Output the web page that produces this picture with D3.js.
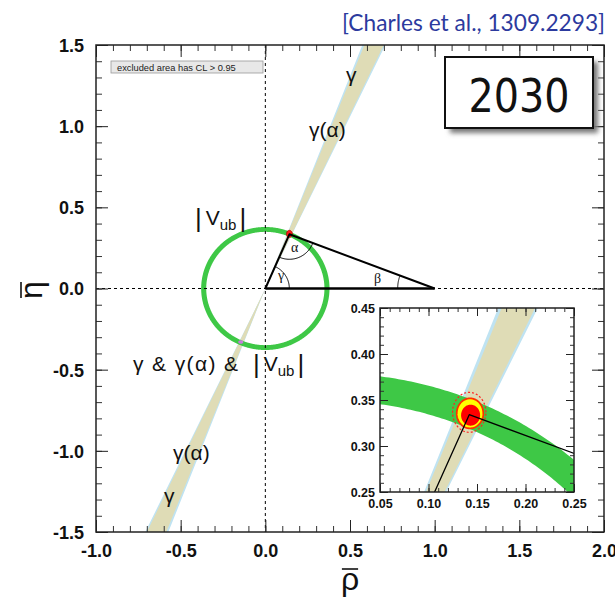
<!DOCTYPE html>
<html>
<head>
<meta charset="utf-8">
<script src="https://cdn.jsdelivr.net/npm/d3@7"></script>
<style>
  body { margin: 0; background: #fff; }
</style>
</head>
<body>
<svg id="chart" width="615" height="600" font-family="'Liberation Sans', Arial, Helvetica, sans-serif"></svg>
<script>
// CKM unitarity triangle in the (rho-bar, eta-bar) plane, 2030 projection

// axis ticks / ranges
const xTicks = [-1.0, -0.5, 0.0, 0.5, 1.0, 1.5, 2.0];
const yTicks = [-1.5, -1.0, -0.5, 0.0, 0.5, 1.0, 1.5];
const insetXTicks = [0.05, 0.10, 0.15, 0.20, 0.25];
const insetYTicks = [0.25, 0.30, 0.35, 0.40, 0.45];

// fit inputs
const apex = [0.142, 0.334];            // best-fit (rho, eta)
const mirrorSolution = [-0.145, -0.330];
const gammaCore = [65.0, 68.7];         // gamma band, degrees
const gammaEdge = [64.7, 69.1];         // gamma band outer edge, degrees
const vubRing = [0.349, 0.379];         // |Vub| circle, inner/outer radius
// confidence contours around the apex: [rho, eta, half-width rho, half-width eta]
const cl95 = [0.1420, 0.3366, 0.0172, 0.0217];
const cl68 = [0.1428, 0.3355, 0.0137, 0.0163];
const clCore = [0.1434, 0.3335, 0.0098, 0.0114];

const svg = d3.select("#chart");
const rad = d => d * Math.PI / 180;

const x = d3.scaleLinear().domain(d3.extent(xTicks)).range([96, 604]);
const y = d3.scaleLinear().domain(d3.extent(yTicks)).range([532, 45]);
const xi = d3.scaleLinear().domain(d3.extent(insetXTicks)).range([380, 574]);
const yi = d3.scaleLinear().domain(d3.extent(insetYTicks)).range([492, 308]);

const defs = svg.append("defs");
function clipFor(id, sx, sy) {
  defs.append("clipPath").attr("id", id).append("rect")
    .attr("x", sx.range()[0]).attr("y", sy.range()[1])
    .attr("width", sx.range()[1] - sx.range()[0])
    .attr("height", sy.range()[0] - sy.range()[1]);
}
clipFor("clipMain", x, y);
clipFor("clipInset", xi, yi);
const shadow = defs.append("filter").attr("id", "shadow")
  .attr("x", "-20%").attr("y", "-20%").attr("width", "150%").attr("height", "150%");
shadow.append("feGaussianBlur").attr("stdDeviation", 2.5);

function drawPlane(g, sx, sy, opt) {
  const line = d3.line().x(d => sx(d[0])).y(d => sy(d[1]));
  const ext = 2;
  const wedge = a => {
    const t0 = Math.tan(rad(a[0])), t1 = Math.tan(rad(a[1]));
    return line([[ext / t0, ext], [-ext / t0, -ext], [-ext / t1, -ext], [ext / t1, ext]]) + "Z";
  };
  g.append("path").attr("d", wedge(gammaEdge)).attr("fill", "#bfe3f2");
  g.append("path").attr("d", wedge(gammaCore)).attr("fill", "#dfdcb6");

  const circ = r => d3.range(0, 360.01, 0.5).map(t => [r * Math.cos(rad(t)), r * Math.sin(rad(t))]);
  g.append("path")
    .attr("d", line(circ(vubRing[1])) + "Z" + line(circ(vubRing[0]).reverse()) + "Z")
    .attr("fill", "#3ec846").attr("fill-rule", "evenodd");

  if (opt.axes) {
    g.append("line").attr("x1", sx(0)).attr("x2", sx(0))
      .attr("y1", sy.range()[1]).attr("y2", sy.range()[0])
      .attr("stroke", "#000").attr("stroke-width", 1).attr("stroke-dasharray", "3,3");
    g.append("line").attr("x1", sx.range()[0]).attr("x2", sx.range()[1])
      .attr("y1", sy(0)).attr("y2", sy(0))
      .attr("stroke", "#000").attr("stroke-width", 1).attr("stroke-dasharray", "3,3");
  }

  const ell = e => line(d3.range(0, 360, 3).map(t =>
    [e[0] + e[2] * Math.cos(rad(t)), e[1] + e[3] * Math.sin(rad(t))])) + "Z";
  if (opt.detail) {
    g.append("path").attr("d", ell(cl95)).attr("fill", "none")
      .attr("stroke", "#ff2020").attr("stroke-width", 1.2).attr("stroke-dasharray", "2,2");
    g.append("path").attr("d", ell(cl68)).attr("fill", "#ffff00")
      .attr("stroke", "#ff3000").attr("stroke-width", 1.8);
    g.append("path").attr("d", ell(clCore)).attr("fill", "#ff0000");
  } else {
    g.append("path").attr("d", ell(cl95)).attr("fill", "#ff1a1a")
      .attr("stroke", "#b00000").attr("stroke-width", 0.8);
    g.append("path").attr("d", ell([mirrorSolution[0], mirrorSolution[1], 0.015, 0.011]))
      .attr("fill", "#c77ddb");
  }

  const tri = [[0, 0], apex, [1, 0]];
  g.append("path").attr("d", line(tri)).attr("fill", "none")
    .attr("stroke", "#000").attr("stroke-width", opt.lw).attr("stroke-linejoin", "round");
  g.append("path").attr("d", line([[0, 0], [1, 0]])).attr("fill", "none")
    .attr("stroke", "#000").attr("stroke-width", opt.lw * 1.25);
}

// main plane
const gMain = svg.append("g").attr("clip-path", "url(#clipMain)");
drawPlane(gMain, x, y, { axes: true, detail: false, lw: 2 });

// angle arcs at the triangle corners (short way round)
function angleArc(at, from, to, r) {
  const p = [x(at[0]), y(at[1])];
  const a1 = Math.atan2(y(from[1]) - p[1], x(from[0]) - p[0]);
  let da = Math.atan2(y(to[1]) - p[1], x(to[0]) - p[0]) - a1;
  while (da > Math.PI) da -= 2 * Math.PI;
  while (da < -Math.PI) da += 2 * Math.PI;
  const pts = d3.range(0, 1.0001, 0.02).map(f => {
    const a = a1 + da * f;
    return [p[0] + r * Math.cos(a), p[1] + r * Math.sin(a)];
  });
  svg.append("path").attr("d", d3.line()(pts)).attr("fill", "none")
    .attr("stroke", "#000").attr("stroke-width", 1);
}
angleArc([0, 0], [1, 0], apex, 24);
angleArc(apex, [0, 0], [1, 0], 25);
angleArc([1, 0], [0, 0], apex, 37);

const smallGreek = [
  { t: "γ", x: 278, y: 280 },
  { t: "α", x: 291, y: 252 },
  { t: "β", x: 374, y: 283 }
];
svg.selectAll("text.corner").data(smallGreek).join("text")
  .attr("class", "corner").attr("x", d => d.x).attr("y", d => d.y)
  .attr("font-family", "'Liberation Serif', 'DejaVu Serif', serif")
  .attr("font-size", 14).attr("fill", "#111").text(d => d.t);

// frame + inward ticks on all four sides
function ticksAll(g, sx, sy, major, minor, bigLen, smallLen, fmt, fs, padX, padY) {
  const xr = sx.range(), yr = sy.range();
  const axes = [
    { ax: d3.axisBottom, s: sx, tr: `translate(0,${yr[0]})`, lab: true, vals: major.x, mvals: minor.x, dy: null, pad: padX },
    { ax: d3.axisTop, s: sx, tr: `translate(0,${yr[1]})`, lab: false, vals: major.x, mvals: minor.x, dy: null, pad: padX },
    { ax: d3.axisLeft, s: sy, tr: `translate(${xr[0]},0)`, lab: true, vals: major.y, mvals: minor.y, dy: "0.36em", pad: padY },
    { ax: d3.axisRight, s: sy, tr: `translate(${xr[1]},0)`, lab: false, vals: major.y, mvals: minor.y, dy: null, pad: padY }
  ];
  axes.forEach(a => {
    const gm = g.append("g").attr("transform", a.tr)
      .call(a.ax(a.s).tickValues(a.mvals).tickSize(-smallLen).tickFormat(""));
    gm.select(".domain").remove();
    gm.selectAll("line").attr("stroke", "#333");
    const gM = g.append("g").attr("transform", a.tr)
      .call(a.ax(a.s).tickValues(a.vals).tickSize(-bigLen).tickPadding(a.pad)
        .tickFormat(a.lab ? fmt : ""));
    gM.select(".domain").remove();
    gM.selectAll("line").attr("stroke", "#222");
    const t = gM.selectAll("text").attr("font-size", fs).attr("font-weight", "bold")
      .attr("fill", "#111").attr("font-family", "'Liberation Sans', Arial, sans-serif");
    if (a.dy) t.attr("dy", a.dy);
  });
  g.append("rect").attr("x", xr[0]).attr("y", yr[1])
    .attr("width", xr[1] - xr[0]).attr("height", yr[0] - yr[1])
    .attr("fill", "none").attr("stroke", "#222").attr("stroke-width", 1.5);
}
const minorRange = (a, b, s) => d3.range(Math.round(a / s), Math.round(b / s) + 1).map(i => +(i * s).toFixed(4));
const fmt1 = d => d.toFixed(1);
const fmt2 = d => d.toFixed(2);

const gAxes = svg.append("g");
ticksAll(gAxes, x, y, { x: xTicks, y: yTicks },
  { x: minorRange(-1, 2, 0.1), y: minorRange(-1.5, 1.5, 0.1) }, 12, 6, fmt1, 18, 12, 12);

// labels on the main plane
const bandLabels = [
  { t: "γ", x: 346, y: 82 },
  { t: "γ(α)", x: 309, y: 137 },
  { t: "γ(α)", x: 173, y: 460 },
  { t: "γ", x: 164, y: 503 }
];
svg.selectAll("text.band").data(bandLabels).join("text")
  .attr("class", "band").attr("x", d => d.x).attr("y", d => d.y)
  .attr("font-size", 21).attr("fill", "#111").text(d => d.t);

function vubLabel(sel) {
  sel.attr("font-size", 21).attr("fill", "#111");
  sel.append("tspan").attr("font-size", 26).attr("dy", 2).text("|");
  sel.append("tspan").attr("dy", -2).attr("dx", 4).text("V");
  sel.append("tspan").attr("font-size", 15).attr("dy", 5).text("ub");
  sel.append("tspan").attr("font-size", 26).attr("dy", -3).attr("dx", 3).text("|");
}
svg.append("text").attr("x", 195).attr("y", 225).call(vubLabel);
svg.append("text").attr("x", 133).attr("y", 371).attr("font-size", 21).attr("fill", "#111")
  .attr("textLength", 105).attr("lengthAdjust", "spacing").text("γ & γ(α) &");
svg.append("text").attr("x", 253).attr("y", 371).call(vubLabel);

// legend note
svg.append("rect").attr("x", 111).attr("y", 61).attr("width", 152).attr("height", 12)
  .attr("fill", "#e8e8e8").attr("stroke", "#9a9a9a").attr("stroke-width", 0.8);
svg.append("text").attr("x", 117).attr("y", 70.5).attr("font-size", 9.3)
  .attr("fill", "#222").text("excluded area has CL > 0.95");

// year box
svg.append("rect").attr("x", 450).attr("y", 62).attr("width", 148).attr("height", 71)
  .attr("fill", "#777").attr("filter", "url(#shadow)");
svg.append("rect").attr("x", 445).attr("y", 57).attr("width", 148).attr("height", 71)
  .attr("fill", "#fff").attr("stroke", "#111").attr("stroke-width", 2);
svg.append("text").attr("x", 519).attr("y", 112).attr("text-anchor", "middle")
  .attr("font-family", "'DejaVu Sans', sans-serif").attr("font-size", 47)
  .attr("textLength", 101).attr("lengthAdjust", "spacingAndGlyphs")
  .attr("fill", "#111").text("2030");

// citation
svg.append("text").attr("x", 605).attr("y", 31).attr("text-anchor", "end")
  .attr("font-family", "Lato, 'Open Sans', sans-serif").attr("font-size", 22.5)
  .attr("textLength", 263).attr("lengthAdjust", "spacingAndGlyphs")
  .attr("fill", "#2c3a9e").text("[Charles et al., 1309.2293]");

// axis titles with overbars
function barredTitle(tx, ty, rot, glyph) {
  const g = svg.append("g").attr("transform", `translate(${tx},${ty}) rotate(${rot})`);
  const t = g.append("text").attr("text-anchor", "middle").attr("font-size", 32)
    .attr("fill", "#111").text(glyph);
  const w = t.node().getComputedTextLength();
  g.append("line").attr("x1", -w / 2 + 1).attr("x2", w / 2 - 1)
    .attr("y1", -21).attr("y2", -21).attr("stroke", "#111").attr("stroke-width", 1.6);
}
barredTitle(350, 590, 0, "ρ");
barredTitle(42, 290, -90, "η");

// zoomed inset around the apex
svg.append("rect").attr("x", 380).attr("y", 308).attr("width", 194).attr("height", 184)
  .attr("fill", "#fff");
const gInset = svg.append("g").attr("clip-path", "url(#clipInset)");
drawPlane(gInset, xi, yi, { axes: false, detail: true, lw: 1.3 });
const gInsetAxes = svg.append("g");
ticksAll(gInsetAxes, xi, yi, { x: insetXTicks, y: insetYTicks },
  { x: minorRange(0.05, 0.25, 0.01), y: minorRange(0.25, 0.45, 0.01) }, 8, 4, fmt2, 12.5, 7, 5);
</script>
</body>
</html>
